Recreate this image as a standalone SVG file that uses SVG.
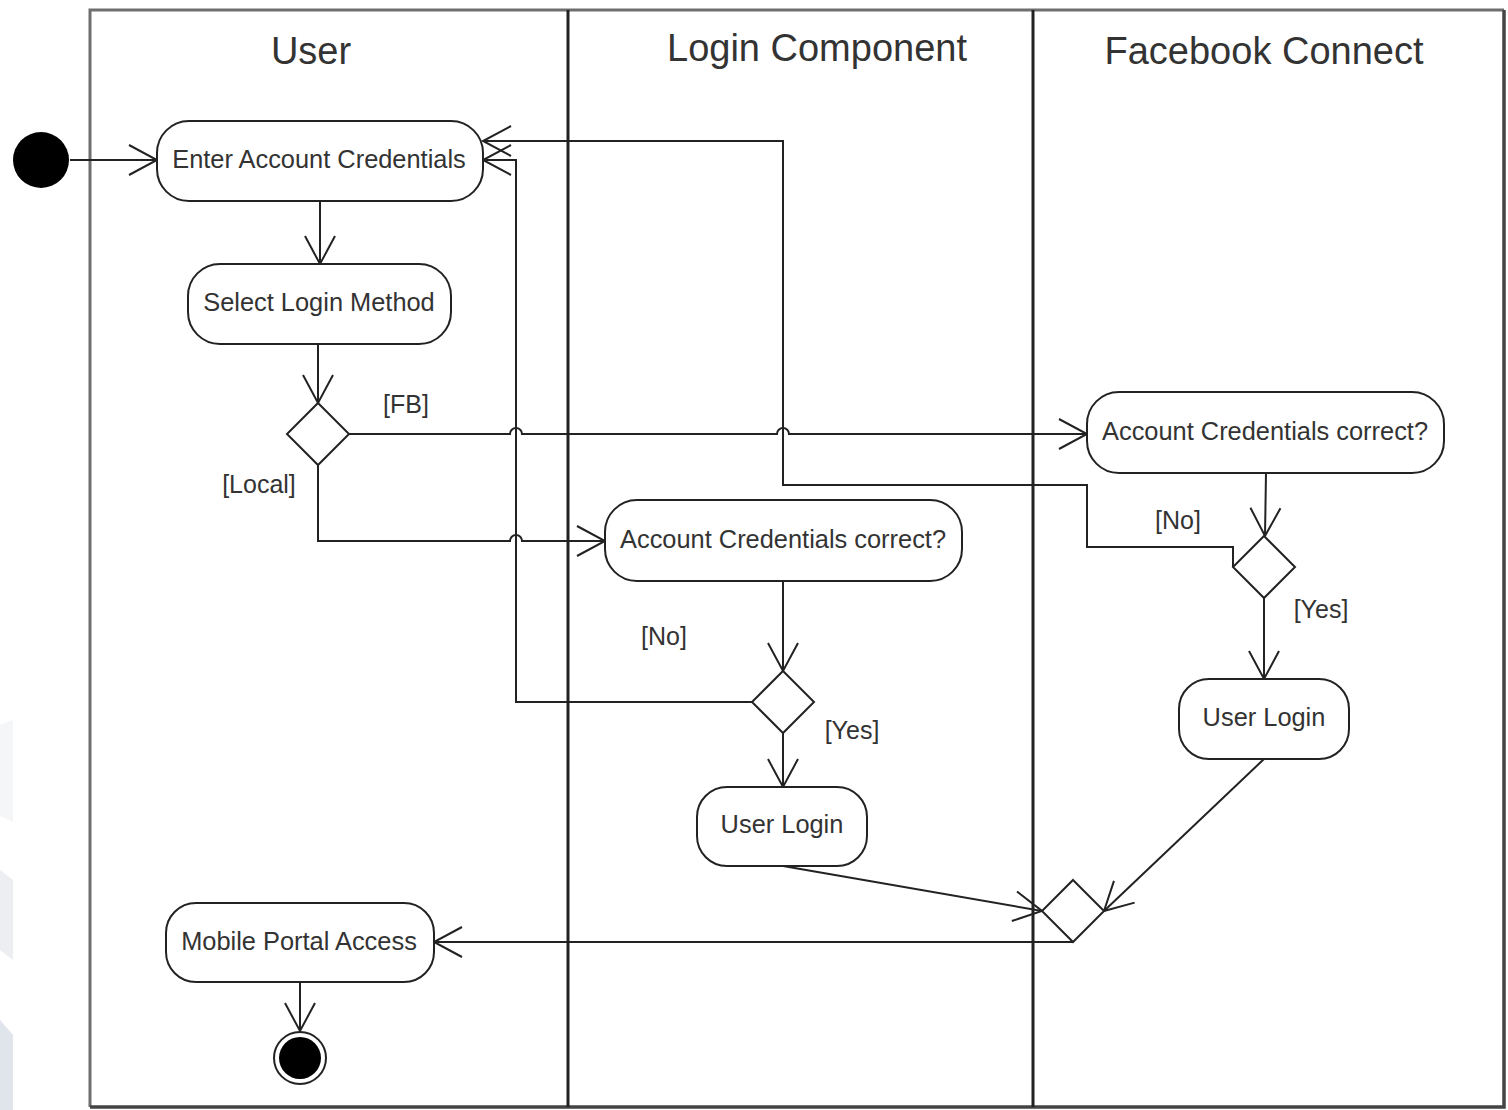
<svg xmlns="http://www.w3.org/2000/svg" width="1508" height="1110" viewBox="0 0 1508 1110">
<defs>
<marker id="arr" markerUnits="userSpaceOnUse" markerWidth="40" markerHeight="40" viewBox="-32 -20 36 40" refX="0" refY="0" orient="auto">
<path d="M-28,-15 L0,0 L-28,15" fill="none" stroke="#222" stroke-width="2"/>
</marker>
</defs>
<style>
.lane{fill:none;stroke:#222;stroke-width:3}
.frame{fill:none;stroke:#6e6e6e;stroke-width:3}
.hdr{font-family:"Liberation Sans",Arial,sans-serif;font-size:38px;fill:#333;text-anchor:middle}
.box{fill:#fff;stroke:#222;stroke-width:2}
.t{font-family:"Liberation Sans",Arial,sans-serif;font-size:25.4px;fill:#333;text-anchor:middle}
.lbl{font-family:"Liberation Sans",Arial,sans-serif;font-size:25px;fill:#333;text-anchor:middle}
.c{fill:none;stroke:#222;stroke-width:2}
.ca{fill:none;stroke:#222;stroke-width:2;marker-end:url(#arr)}
</style>
<rect width="1508" height="1110" fill="#fff"/>
<g id="watermark">
<polygon points="0,725 13,720 13,822 0,816" fill="#f5f6f8"/>
<polygon points="0,870 13,880 13,960 0,950" fill="#eceef2"/>
<polygon points="0,1020 13,1035 13,1110 0,1110" fill="#e0e4eb"/>
</g>
<g id="lanes">
<path class="frame" d="M90,1107 L90,10 L1504,10"/>
<path d="M1504,10 L1504,1107 L90,1107" fill="none" stroke="#444" stroke-width="3.5"/>
<line class="lane" x1="568" y1="10" x2="568" y2="1107"/>
<line class="lane" x1="1033" y1="10" x2="1033" y2="1107"/>
<text class="hdr" x="311" y="64">User</text>
<text class="hdr" x="817" y="61">Login Component</text>
<text class="hdr" x="1264" y="64">Facebook Connect</text>
</g>
<g id="connectors">
<line class="ca" x1="70" y1="160" x2="157" y2="160"/>
<line class="ca" x1="320" y1="201" x2="320" y2="264"/>
<line class="ca" x1="318" y1="344" x2="318" y2="403"/>
<path class="ca" d="M349,434 L510,434 A6,6 0 0 1 522,434 L777,434 A6,6 0 0 1 789,434 L1087,434"/>
<path class="ca" d="M318,465 L318,541 L510,541 A6,6 0 0 1 522,541 L605,541"/>
<line class="ca" x1="783" y1="581" x2="783" y2="671"/>
<path class="ca" d="M752,702 L516,702 L516,160 L483,160"/>
<line class="ca" x1="783" y1="733" x2="783" y2="787"/>
<line class="ca" x1="1266" y1="473" x2="1265" y2="536"/>
<path class="ca" d="M1233,567 L1233,547 L1087,547 L1087,485 L783,485 L783,141 L483,141"/>
<line class="ca" x1="1264" y1="598" x2="1264" y2="679"/>
<line class="ca" x1="783" y1="866" x2="1042" y2="911"/>
<line class="ca" x1="1264" y1="759" x2="1104" y2="911"/>
<path class="ca" d="M1073,942 L434,942"/>
<line class="ca" x1="300" y1="982" x2="300" y2="1031"/>
</g>
<g id="start"><circle cx="41" cy="160" r="28" fill="#000"/></g>
<g id="enter-credentials">
<rect class="box" x="157" y="121" width="326" height="80" rx="32"/>
<text class="t" x="319" y="168">Enter Account Credentials</text>
</g>
<g id="select-login">
<rect class="box" x="188" y="264" width="263" height="80" rx="32"/>
<text class="t" x="319" y="311">Select Login Method</text>
</g>
<g id="decision-method">
<polygon class="box" points="318,403 349,434 318,465 287,434"/>
<text class="lbl" x="406" y="413">[FB]</text>
<text class="lbl" x="259" y="493">[Local]</text>
</g>
<g id="fb-check">
<rect class="box" x="1087" y="392" width="357" height="81" rx="32"/>
<text class="t" x="1265" y="440">Account Credentials correct?</text>
</g>
<g id="local-check">
<rect class="box" x="605" y="500" width="357" height="81" rx="32"/>
<text class="t" x="783" y="548">Account Credentials correct?</text>
</g>
<g id="decision-local">
<polygon class="box" points="783,671 814,702 783,733 752,702"/>
<text class="lbl" x="664" y="645">[No]</text>
<text class="lbl" x="852" y="739">[Yes]</text>
</g>
<g id="local-login">
<rect class="box" x="697" y="787" width="170" height="79" rx="30"/>
<text class="t" x="782" y="833">User Login</text>
</g>
<g id="decision-fb">
<polygon class="box" points="1264,536 1295,567 1264,598 1233,567"/>
<text class="lbl" x="1178" y="529">[No]</text>
<text class="lbl" x="1321" y="618">[Yes]</text>
</g>
<g id="fb-login">
<rect class="box" x="1179" y="679" width="170" height="80" rx="30"/>
<text class="t" x="1264" y="726">User Login</text>
</g>
<g id="merge">
<polygon class="box" points="1073,880 1104,911 1073,942 1042,911"/>
</g>
<g id="portal">
<rect class="box" x="166" y="903" width="268" height="79" rx="30"/>
<text class="t" x="299" y="950">Mobile Portal Access</text>
</g>
<g id="end">
<circle cx="300" cy="1058" r="26" fill="#fff" stroke="#222" stroke-width="2"/>
<circle cx="300" cy="1058" r="21" fill="#000"/>
</g>
</svg>
